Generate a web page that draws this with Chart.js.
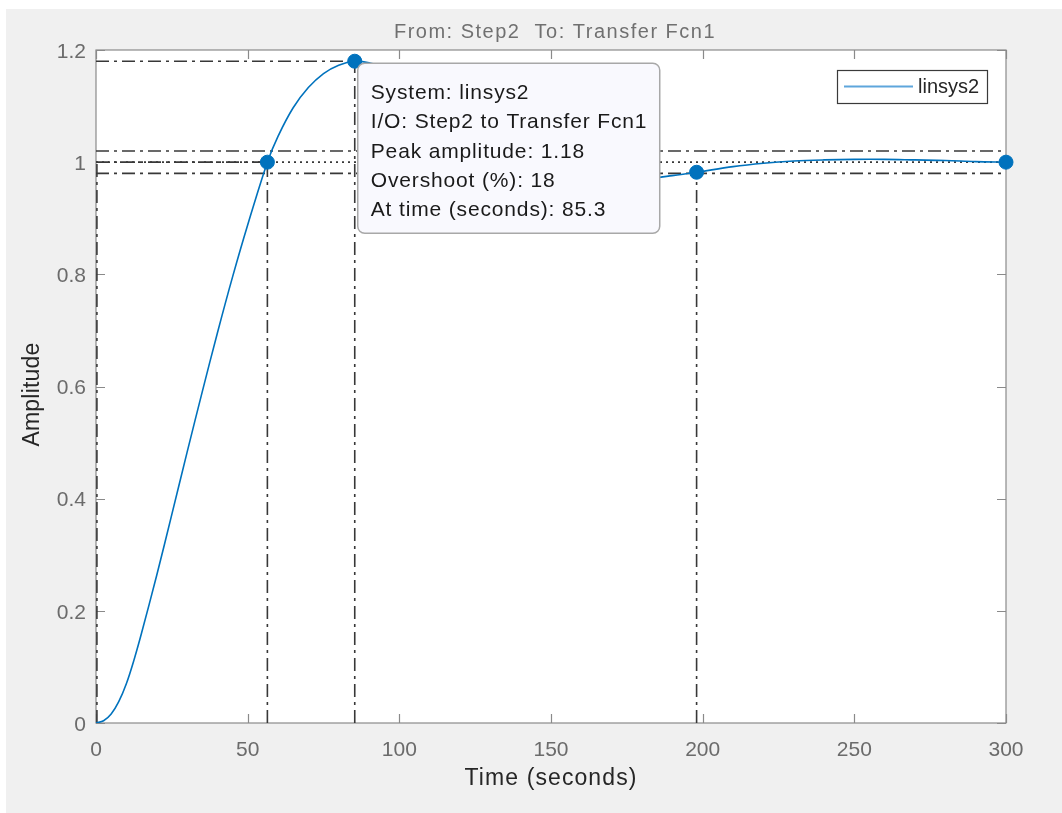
<!DOCTYPE html>
<html>
<head>
<meta charset="utf-8">
<script src="https://cdn.jsdelivr.net/npm/chart.js@4.4.1/dist/chart.umd.min.js"></script>
<style>
  html, body { margin: 0; padding: 0; background: #fff; }
  #wrap { width: 1062px; height: 813px; }
</style>
</head>
<body>
<div id="wrap"><canvas id="chart" width="1062" height="813"></canvas></div>
<script>
// step response (seconds, amplitude)
const time = [0, 2.5, 5, 7.5, 10, 12.5, 15, 20, 25, 30, 35, 40, 45, 50, 56.5, 60, 65, 70, 75, 80, 85.3, 90, 100, 110, 120, 130, 140, 150, 160, 170, 180, 190, 198, 210, 220, 230, 240, 250, 260, 270, 280, 290, 300];
const amplitude = [0, 0.004, 0.016, 0.038, 0.07, 0.112, 0.16, 0.263, 0.372, 0.482, 0.59, 0.695, 0.795, 0.888, 1.0, 1.046, 1.097, 1.133, 1.158, 1.173, 1.18, 1.177, 1.16, 1.125, 1.08, 1.037, 1.003, 0.982, 0.971, 0.968, 0.970, 0.976, 0.982, 0.992, 0.998, 1.002, 1.004, 1.005, 1.005, 1.004, 1.003, 1.001, 1.0];

// characteristic points: rise, peak, settling, steady state
const markerTimes = [56.5, 85.3, 198, 300];
const markerValues = [1.0, 1.18, 0.982, 1.0];
const peakTime = 85.3;
const peakValue = 1.18;
const riseTime = 56.5;
const settleTime = 198;
const settleValue = 0.982;
const finalValue = 1;
const settleBand = [0.98, 1.02];

const xTicks = [0, 50, 100, 150, 200, 250, 300];
const yTicks = [0, 0.2, 0.4, 0.6, 0.8, 1, 1.2];

const titleText = 'From: Step2  To: Transfer Fcn1';
const xTitle = 'Time (seconds)';
const yTitle = 'Amplitude';
const tipLines = [
  'System: linsys2',
  'I/O: Step2 to Transfer Fcn1',
  'Peak amplitude: 1.18',
  'Overshoot (%): 18',
  'At time (seconds): 85.3'
];

const FONT = "'Liberation Sans', Arial, sans-serif";
const tickColor = '#6b6b6b';
const labelColor = '#262626';
const boxColor = '#8a8a8a';
const lineBlue = '#0072BD';
const charColor = '#383838';
const dashDot = [13, 5, 3, 5];

const pts = (xs, ys) => xs.map((x, i) => ({ x, y: ys[i] }));
const seg = (x0, y0, x1, y1) => [{ x: x0, y: y0 }, { x: x1, y: y1 }];

function guide(data, dash) {
  return {
    data, showLine: true, pointRadius: 0, borderColor: charColor,
    borderWidth: 1.6, borderDash: dash, fill: false, tension: 0, clip: false
  };
}

function spacedText(ctx, text, x, y, spacing) {
  ctx.letterSpacing = spacing + 'px';
  ctx.fillText(text, x, y);
  ctx.letterSpacing = '0px';
}

const framePlugin = {
  id: 'frame',
  beforeDraw(chart) {
    const { ctx, chartArea: a } = chart;
    ctx.save();
    ctx.fillStyle = '#ffffff';
    ctx.fillRect(0, 0, chart.width, chart.height);
    ctx.fillStyle = '#f0f0f0';
    ctx.fillRect(6, 9, chart.width - 6, chart.height - 9);
    ctx.fillStyle = '#ffffff';
    ctx.fillRect(a.left, a.top, a.right - a.left, a.bottom - a.top);

    // titles
    const cx = (a.left + a.right) / 2;
    ctx.textAlign = 'center';
    ctx.textBaseline = 'middle';
    ctx.fillStyle = '#707070';
    ctx.font = '20px ' + FONT;
    spacedText(ctx, titleText, cx + 4, 32, 1.5);
    ctx.fillStyle = labelColor;
    ctx.font = '23px ' + FONT;
    spacedText(ctx, xTitle, cx, 779, 1.1);
    ctx.translate(33, (a.top + a.bottom) / 2 + 8);
    ctx.rotate(-Math.PI / 2);
    spacedText(ctx, yTitle, 0, 0, 0.2);
    ctx.restore();
  },
  beforeDatasetsDraw(chart) {
    const { ctx, chartArea: a, scales } = chart;
    ctx.save();
    ctx.strokeStyle = boxColor;
    ctx.lineWidth = 1.2;
    ctx.strokeRect(a.left, a.top, a.right - a.left, a.bottom - a.top);
    ctx.beginPath();
    xTicks.forEach(v => {
      const px = Math.round(scales.x.getPixelForValue(v)) + 0.5;
      ctx.moveTo(px, a.bottom); ctx.lineTo(px, a.bottom - 9);
      ctx.moveTo(px, a.top); ctx.lineTo(px, a.top + 9);
    });
    yTicks.forEach(v => {
      const py = Math.round(scales.y.getPixelForValue(v)) + 0.5;
      ctx.moveTo(a.left, py); ctx.lineTo(a.left + 9, py);
      ctx.moveTo(a.right, py); ctx.lineTo(a.right - 9, py);
    });
    ctx.stroke();
    ctx.restore();
  },
  afterDraw(chart) {
    const { ctx, scales } = chart;
    // data tip attached to the peak point
    const px = scales.x.getPixelForValue(peakTime);
    const py = scales.y.getPixelForValue(peakValue);
    const bx = px + 3, by = py + 2, bw = 302, bh = 170;
    ctx.save();
    ctx.beginPath();
    ctx.roundRect(bx, by, bw, bh, 7);
    ctx.fillStyle = '#f9f9fe';
    ctx.fill();
    ctx.strokeStyle = '#a8a8a8';
    ctx.lineWidth = 1.5;
    ctx.stroke();
    ctx.fillStyle = '#1a1a1a';
    ctx.font = '21px ' + FONT;
    ctx.textBaseline = 'alphabetic';
    tipLines.forEach((t, i) => spacedText(ctx, t, bx + 13, by + 35.5 + i * 29.4, 0.85));

    // legend box in the top right corner
    const lx = 837, ly = 70, lw = 150, lh = 33;
    ctx.fillStyle = '#ffffff';
    ctx.fillRect(lx, ly, lw, lh);
    ctx.strokeStyle = '#3a3a3a';
    ctx.lineWidth = 1.2;
    ctx.strokeRect(lx + 0.5, ly + 0.5, lw, lh);
    ctx.strokeStyle = '#5ea6dc';
    ctx.lineWidth = 2;
    ctx.beginPath();
    ctx.moveTo(lx + 7, ly + 16.5); ctx.lineTo(lx + 76, ly + 16.5);
    ctx.stroke();
    ctx.fillStyle = labelColor;
    ctx.font = '20px ' + FONT;
    ctx.textBaseline = 'middle';
    ctx.fillText(chart.data.datasets[1].label, lx + 81, ly + 17);
    ctx.restore();
  }
};

new Chart(document.getElementById('chart'), {
  type: 'scatter',
  data: {
    datasets: [
      {
        label: 'markers',
        data: pts(markerTimes, markerValues),
        pointRadius: 7, pointHoverRadius: 7,
        pointBackgroundColor: lineBlue, pointBorderColor: lineBlue,
        showLine: false, clip: false
      },
      {
        label: 'linsys2',
        data: pts(time, amplitude),
        showLine: true, pointRadius: 0,
        borderColor: lineBlue, borderWidth: 1.6,
        tension: 0.35, fill: false
      },
      guide(seg(0, finalValue, 300, finalValue), [2, 4]),
      guide(seg(0, settleBand[0], 300, settleBand[0]), dashDot),
      guide(seg(0, settleBand[1], 300, settleBand[1]), dashDot),
      guide(seg(0, peakValue, peakTime, peakValue), dashDot),
      guide(seg(peakTime, 0, peakTime, peakValue), dashDot),
      guide(seg(0, finalValue, riseTime, finalValue), dashDot),
      guide(seg(riseTime, 0, riseTime, finalValue), dashDot),
      guide(seg(0.3, 0, 0.3, finalValue), dashDot),
      guide(seg(settleTime, 0, settleTime, settleValue), dashDot)
    ]
  },
  options: {
    responsive: false,
    animation: false,
    events: [],
    layout: { padding: { left: 0, right: 56, top: 50, bottom: 0 } },
    plugins: {
      legend: { display: false },
      tooltip: { enabled: false },
      title: { display: false }
    },
    scales: {
      x: {
        type: 'linear', min: 0, max: 300,
        afterBuildTicks: s => { s.ticks = xTicks.map(v => ({ value: v })); },
        afterFit: s => { s.height = 90; },
        grid: { display: false, drawTicks: false },
        border: { display: false },
        ticks: { color: tickColor, font: { family: FONT, size: 21 }, padding: 15, maxRotation: 0, autoSkip: false, callback: v => String(v) }
      },
      y: {
        type: 'linear', min: 0, max: 1.2,
        afterBuildTicks: s => { s.ticks = yTicks.map(v => ({ value: v })); },
        afterFit: s => { s.width = 96; },
        grid: { display: false, drawTicks: false },
        border: { display: false },
        ticks: { color: tickColor, font: { family: FONT, size: 21 }, padding: 10, labelOffset: 2, autoSkip: false, callback: v => String(v) }
      }
    }
  },
  plugins: [framePlugin]
});
</script>
</body>
</html>
